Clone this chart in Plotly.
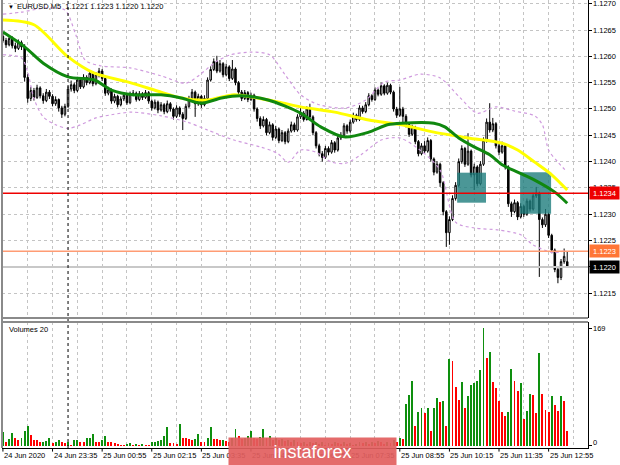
import plotly.graph_objects as go

# ---------------- data ----------------
OPEN = [
    1.12638, 1.12630, 1.12622, 1.12634, 1.12620, 1.12615, 1.12626, 1.12618, 1.12560, 1.12520,
    1.12535, 1.12522, 1.12540, 1.12525, 1.12516, 1.12532, 1.12524, 1.12510, 1.12518, 1.12502,
    1.12490, 1.12505, 1.12538, 1.12546, 1.12535, 1.12555, 1.12542, 1.12560, 1.12550, 1.12568,
    1.12548, 1.12565, 1.12572, 1.12558, 1.12530, 1.12536, 1.12515, 1.12524, 1.12508, 1.12519,
    1.12526, 1.12512, 1.12528, 1.12530, 1.12518, 1.12529, 1.12522, 1.12531, 1.12515, 1.12502,
    1.12513, 1.12498, 1.12508, 1.12495, 1.12510, 1.12500, 1.12486, 1.12502, 1.12490, 1.12482,
    1.12505, 1.12520, 1.12532, 1.12510, 1.12524, 1.12508, 1.12520, 1.12555, 1.12575, 1.12590,
    1.12572, 1.12586, 1.12565, 1.12580, 1.12558, 1.12576, 1.12550, 1.12532, 1.12520, 1.12531,
    1.12518, 1.12526, 1.12500, 1.12482, 1.12468, 1.12480, 1.12455, 1.12470, 1.12446, 1.12462,
    1.12440, 1.12455, 1.12438, 1.12458, 1.12470, 1.12460, 1.12485, 1.12492, 1.12480, 1.12500,
    1.12485, 1.12455, 1.12430, 1.12415, 1.12408, 1.12425, 1.12418, 1.12436, 1.12422, 1.12445,
    1.12450, 1.12468, 1.12458, 1.12475, 1.12488, 1.12480, 1.12502, 1.12495, 1.12508, 1.12525,
    1.12518, 1.12536, 1.12528, 1.12544, 1.12530, 1.12545, 1.12532, 1.12500, 1.12488, 1.12500,
    1.12486, 1.12470, 1.12452, 1.12465, 1.12438, 1.12415, 1.12430, 1.12420, 1.12440, 1.12405,
    1.12380, 1.12395, 1.12360, 1.12305, 1.12265, 1.12290, 1.12330, 1.12355, 1.12400, 1.12425,
    1.12395, 1.12420, 1.12375, 1.12390, 1.12358, 1.12395, 1.12440, 1.12475, 1.12460, 1.12472,
    1.12430, 1.12418, 1.12430, 1.12390, 1.12320, 1.12305, 1.12322, 1.12295, 1.12315, 1.12300,
    1.12325, 1.12310, 1.12335, 1.12340, 1.12290, 1.12280, 1.12300, 1.12260, 1.12232, 1.12195,
    1.12180, 1.12210, 1.12210,
]
HIGH = [
    1.12644, 1.12635, 1.12640, 1.12638, 1.12626, 1.12632, 1.12630, 1.12623, 1.12566, 1.12542,
    1.12540, 1.12546, 1.12543, 1.12530, 1.12538, 1.12536, 1.12528, 1.12524, 1.12520, 1.12506,
    1.12510, 1.12543, 1.12554, 1.12550, 1.12561, 1.12559, 1.12566, 1.12564, 1.12574, 1.12571,
    1.12570, 1.12578, 1.12576, 1.12562, 1.12542, 1.12539, 1.12529, 1.12527, 1.12524, 1.12531,
    1.12529, 1.12533, 1.12536, 1.12533, 1.12534, 1.12532, 1.12536, 1.12534, 1.12518, 1.12518,
    1.12516, 1.12513, 1.12511, 1.12516, 1.12513, 1.12503, 1.12507, 1.12505, 1.12494, 1.12510,
    1.12525, 1.12538, 1.12535, 1.12529, 1.12527, 1.12526, 1.12560, 1.12581, 1.12596, 1.12601,
    1.12593, 1.12589, 1.12586, 1.12583, 1.12593, 1.12579, 1.12553, 1.12536, 1.12536, 1.12534,
    1.12531, 1.12529, 1.12503, 1.12486, 1.12486, 1.12483, 1.12476, 1.12473, 1.12468, 1.12465,
    1.12460, 1.12458, 1.12463, 1.12476, 1.12474, 1.12490, 1.12502, 1.12496, 1.12505, 1.12510,
    1.12488, 1.12458, 1.12434, 1.12420, 1.12430, 1.12429, 1.12441, 1.12439, 1.12450, 1.12456,
    1.12473, 1.12471, 1.12480, 1.12493, 1.12491, 1.12507, 1.12506, 1.12513, 1.12530, 1.12528,
    1.12541, 1.12539, 1.12550, 1.12547, 1.12550, 1.12548, 1.12535, 1.12504, 1.12542, 1.12504,
    1.12490, 1.12473, 1.12470, 1.12468, 1.12441, 1.12435, 1.12439, 1.12446, 1.12443, 1.12408,
    1.12401, 1.12398, 1.12363, 1.12308, 1.12296, 1.12336, 1.12361, 1.12406, 1.12431, 1.12428,
    1.12454, 1.12423, 1.12396, 1.12393, 1.12401, 1.12446, 1.12482, 1.12511, 1.12483, 1.12475,
    1.12434, 1.12438, 1.12433, 1.12393, 1.12324, 1.12328, 1.12325, 1.12321, 1.12318, 1.12330,
    1.12328, 1.12341, 1.12352, 1.12343, 1.12294, 1.12310, 1.12303, 1.12263, 1.12235, 1.12200,
    1.12215, 1.12235, 1.12230,
]
LOW = [
    1.12626, 1.12616, 1.12619, 1.12615, 1.12608, 1.12612, 1.12612, 1.12552, 1.12512, 1.12515,
    1.12516, 1.12519, 1.12520, 1.12510, 1.12513, 1.12519, 1.12505, 1.12506, 1.12495, 1.12483,
    1.12486, 1.12502, 1.12533, 1.12530, 1.12532, 1.12538, 1.12539, 1.12545, 1.12547, 1.12543,
    1.12545, 1.12560, 1.12553, 1.12525, 1.12526, 1.12510, 1.12511, 1.12503, 1.12505, 1.12515,
    1.12508, 1.12509, 1.12524, 1.12514, 1.12515, 1.12517, 1.12519, 1.12510, 1.12497, 1.12499,
    1.12492, 1.12495, 1.12490, 1.12492, 1.12495, 1.12480, 1.12483, 1.12485, 1.12460, 1.12479,
    1.12502, 1.12517, 1.12485, 1.12506, 1.12502, 1.12505, 1.12518, 1.12552, 1.12572, 1.12568,
    1.12569, 1.12560, 1.12562, 1.12553, 1.12555, 1.12545, 1.12527, 1.12515, 1.12517, 1.12513,
    1.12515, 1.12495, 1.12476, 1.12462, 1.12465, 1.12450, 1.12452, 1.12440, 1.12443, 1.12435,
    1.12437, 1.12433, 1.12435, 1.12455, 1.12456, 1.12457, 1.12481, 1.12476, 1.12478, 1.12480,
    1.12450, 1.12425, 1.12410, 1.12400, 1.12405, 1.12412, 1.12415, 1.12417, 1.12419, 1.12441,
    1.12447, 1.12453, 1.12455, 1.12472, 1.12476, 1.12477, 1.12491, 1.12492, 1.12505, 1.12514,
    1.12515, 1.12524, 1.12525, 1.12526, 1.12527, 1.12528, 1.12495, 1.12483, 1.12485, 1.12470,
    1.12465, 1.12447, 1.12449, 1.12433, 1.12410, 1.12412, 1.12415, 1.12417, 1.12400, 1.12374,
    1.12377, 1.12352, 1.12298, 1.12238, 1.12242, 1.12287, 1.12326, 1.12352, 1.12396, 1.12390,
    1.12392, 1.12370, 1.12346, 1.12353, 1.12355, 1.12392, 1.12436, 1.12455, 1.12456, 1.12425,
    1.12412, 1.12415, 1.12385, 1.12314, 1.12295, 1.12302, 1.12289, 1.12292, 1.12295, 1.12297,
    1.12305, 1.12307, 1.12331, 1.12181, 1.12274, 1.12276, 1.12255, 1.12226, 1.12190, 1.12169,
    1.12175, 1.12206, 1.12200,
]
CLOSE = [
    1.12630, 1.12622, 1.12634, 1.12620, 1.12615, 1.12626, 1.12618, 1.12560, 1.12520, 1.12535,
    1.12522, 1.12540, 1.12525, 1.12516, 1.12532, 1.12524, 1.12510, 1.12518, 1.12502, 1.12490,
    1.12505, 1.12538, 1.12546, 1.12535, 1.12555, 1.12542, 1.12560, 1.12550, 1.12568, 1.12548,
    1.12565, 1.12572, 1.12558, 1.12530, 1.12536, 1.12515, 1.12524, 1.12508, 1.12519, 1.12526,
    1.12512, 1.12528, 1.12530, 1.12518, 1.12529, 1.12522, 1.12531, 1.12515, 1.12502, 1.12513,
    1.12498, 1.12508, 1.12495, 1.12510, 1.12500, 1.12486, 1.12502, 1.12490, 1.12482, 1.12505,
    1.12520, 1.12532, 1.12510, 1.12524, 1.12508, 1.12520, 1.12555, 1.12575, 1.12590, 1.12572,
    1.12586, 1.12565, 1.12580, 1.12558, 1.12576, 1.12550, 1.12532, 1.12520, 1.12531, 1.12518,
    1.12526, 1.12500, 1.12482, 1.12468, 1.12480, 1.12455, 1.12470, 1.12446, 1.12462, 1.12440,
    1.12455, 1.12438, 1.12458, 1.12470, 1.12460, 1.12485, 1.12492, 1.12480, 1.12500, 1.12485,
    1.12455, 1.12430, 1.12415, 1.12408, 1.12425, 1.12418, 1.12436, 1.12422, 1.12445, 1.12450,
    1.12468, 1.12458, 1.12475, 1.12488, 1.12480, 1.12502, 1.12495, 1.12508, 1.12525, 1.12518,
    1.12536, 1.12528, 1.12544, 1.12530, 1.12545, 1.12532, 1.12500, 1.12488, 1.12500, 1.12486,
    1.12470, 1.12452, 1.12465, 1.12438, 1.12415, 1.12430, 1.12420, 1.12440, 1.12405, 1.12380,
    1.12395, 1.12360, 1.12305, 1.12265, 1.12290, 1.12330, 1.12355, 1.12400, 1.12425, 1.12395,
    1.12420, 1.12375, 1.12390, 1.12358, 1.12395, 1.12440, 1.12475, 1.12460, 1.12472, 1.12430,
    1.12418, 1.12430, 1.12390, 1.12320, 1.12305, 1.12322, 1.12295, 1.12315, 1.12300, 1.12325,
    1.12310, 1.12335, 1.12340, 1.12290, 1.12280, 1.12300, 1.12260, 1.12232, 1.12195, 1.12180,
    1.12210, 1.12220, 1.12200,
]
VOLUME = [
    20, 5, 10, 18, 12, 8, 12, 21, 29, 16,
    9, 8, 5, 6, 7, 12, 4, 6, 9, 5,
    4, 6, 2, 8, 9, 6, 5, 11, 12, 17,
    6, 5, 8, 15, 6, 5, 4, 3, 2, 1,
    3, 4, 2, 3, 2, 3, 1, 1, 5, 6,
    7, 8, 15, 27, 4, 4, 3, 31, 12, 11,
    10, 9, 10, 17, 5, 5, 11, 27, 10, 10,
    8, 9, 7, 5, 12, 24, 14, 10, 12, 15,
    21, 12, 10, 13, 24, 12, 14, 9, 11, 8,
    10, 7, 9, 6, 8, 5, 4, 6, 3, 5,
    4, 6, 3, 5, 2, 4, 3, 6, 4, 3,
    5, 3, 4, 2, 3, 5, 4, 6, 3, 5,
    4, 7, 5, 3, 6, 4, 8, 6, 12, 10,
    60, 73, 93, 28, 48, 54, 47, 55, 22, 55,
    69, 63, 64, 28, 125, 122, 84, 66, 91, 55,
    71, 87, 90, 93, 109, 169, 126, 134, 92, 83,
    64, 48, 43, 48, 110, 93, 79, 90, 39, 50,
    74, 73, 47, 133, 74, 52, 49, 71, 58, 50,
    71, 64, 21,
]

# indicator lines (bar index, price)
MA_YELLOW_X = [0, 10, 21, 29.5, 40.5, 51, 57.5, 66, 74.5, 80, 89, 96, 107, 118, 128.5, 139, 150, 161, 166, 171.5, 177, 182]
MA_YELLOW_Y = [1.12669, 1.12660, 1.12599, 1.12568, 1.12551, 1.12532, 1.12521, 1.12517, 1.12527, 1.12523, 1.12513,
               1.12504, 1.12494, 1.12479, 1.12470, 1.12456, 1.12445, 1.12435, 1.12422, 1.12399, 1.12375, 1.12346]
MA_GREEN_X = [0, 7, 13, 21, 29.5, 35, 42, 51, 57.5, 64, 70.5, 77, 85.5, 96, 102.5, 110, 118, 124, 128.5, 139,
              142.5, 147, 152, 157, 161, 166, 171.5, 178, 182]
MA_GREEN_Y = [1.12646, 1.12618, 1.12587, 1.12561, 1.12555, 1.12536, 1.12527, 1.12527, 1.12521, 1.12511, 1.12521,
              1.12525, 1.12517, 1.12492, 1.12466, 1.12447, 1.12456, 1.12470, 1.12473, 1.12473, 1.12466, 1.12445,
              1.12428, 1.12413, 1.12394, 1.12380, 1.12365, 1.12342, 1.12321]
BB_UPPER_X = [0, 6, 14, 20, 23.5, 26.5, 31.5, 41, 51, 59, 63.5, 68.5, 73.5, 80, 86, 91, 96, 102, 110.5, 117, 123,
              128, 134.5, 141, 147.5, 153, 159, 165, 171.5, 174, 176, 179, 182]
BB_UPPER_Y = [1.12680, 1.12684, 1.12692, 1.12688, 1.12641, 1.12593, 1.12582, 1.12578, 1.12563, 1.12549, 1.12565,
              1.12589, 1.12603, 1.12608, 1.12603, 1.12565, 1.12527, 1.12508, 1.12502, 1.12517, 1.12551, 1.12555,
              1.12566, 1.12559, 1.12521, 1.12492, 1.12504, 1.12496, 1.12487, 1.12470, 1.12422, 1.12399, 1.12380]
BB_LOWER_X = [0, 6, 8, 10, 13, 17, 21, 25, 30, 35, 41.5, 51, 59.5, 66, 74.5, 83, 88.5, 92, 96, 101, 106, 110.5,
              115.5, 122, 128, 134.5, 141, 146, 152, 160, 167, 171, 177.5, 182]
BB_LOWER_Y = [1.12603, 1.12597, 1.12570, 1.12520, 1.12485, 1.12470, 1.12463, 1.12470, 1.12483, 1.12489, 1.12494,
              1.12487, 1.12475, 1.12460, 1.12441, 1.12428, 1.12416, 1.12399, 1.12422, 1.12418, 1.12399, 1.12397,
              1.12413, 1.12441, 1.12445, 1.12422, 1.12384, 1.12285, 1.12274, 1.12270, 1.12261, 1.12242, 1.12227,
              1.12232]

PRICE_TICKS = [1.1215, 1.1220, 1.1225, 1.1230, 1.1235, 1.1240, 1.1245, 1.1250, 1.1255, 1.1260, 1.1265, 1.1270]
PRICE_TICK_TEXT = ["1.1215", "1.1220", "1.1225", "1.1230", "1.1235", "1.1240", "1.1245", "1.1250", "1.1255",
                   "1.1260", "1.1265", "1.1270"]
TIME_LABELS = ["24 Jun 2020", "24 Jun 23:35", "25 Jun 00:55", "25 Jun 02:15", "25 Jun 03:35", "25 Jun 04:55",
               "25 Jun 06:15", "25 Jun 07:35", "25 Jun 08:55", "25 Jun 10:15", "25 Jun 11:35", "25 Jun 12:55"]
VOLUME_TICKS = [0, 169]

LEVEL_RED = 1.1234
LEVEL_ORANGE = 1.1223
LEVEL_LAST = 1.1220
HEADER = "EURUSD,M5  1.1221 1.1223 1.1220 1.1220"
# signal zones: (first bar, last bar, low price, high price)
ZONES = [(146.5, 155.8, 1.12322, 1.12379), (166.8, 176.8, 1.12301, 1.12380)]
SEPARATOR_BAR = 21

# ---------------- figure ----------------
FONT = "Liberation Sans"
BARS = list(range(len(OPEN)))
LABEL_STEP = 16
GRID_STEP = 8
grid_vals = list(range(0, 190, GRID_STEP))
label_vals = [k * LABEL_STEP for k in range(len(TIME_LABELS))]

vol_colors = []
for i, v in enumerate(VOLUME):
    vol_colors.append("#0e8f0e" if i == 0 or v > VOLUME[i - 1] else "#ff0000")

fig = go.Figure()

fig.add_trace(go.Candlestick(
    x=BARS, open=OPEN, high=HIGH, low=LOW, close=CLOSE,
    increasing=dict(line=dict(color="black", width=1), fillcolor="white"),
    decreasing=dict(line=dict(color="black", width=1), fillcolor="black"),
    whiskerwidth=0, hoverinfo="skip", showlegend=False, xaxis="x", yaxis="y"))

for (b0, b1, p0, p1) in ZONES:
    fig.add_trace(go.Scatter(
        x=[b0, b1, b1, b0, b0], y=[p0, p0, p1, p1, p0], mode="lines", fill="toself",
        fillcolor="rgba(30,125,125,0.8)", line=dict(width=0), hoverinfo="skip", showlegend=False,
        xaxis="x", yaxis="y"))

for xs, ys in ((BB_UPPER_X, BB_UPPER_Y), (BB_LOWER_X, BB_LOWER_Y)):
    fig.add_trace(go.Scatter(x=xs, y=ys, mode="lines",
                             line=dict(color="#cf9ade", width=1.2, dash="dot", shape="spline", smoothing=0.8),
                             hoverinfo="skip", showlegend=False, xaxis="x", yaxis="y"))

fig.add_trace(go.Scatter(x=MA_YELLOW_X, y=MA_YELLOW_Y, mode="lines",
                         line=dict(color="#ffff00", width=3, shape="spline", smoothing=0.8),
                         hoverinfo="skip", showlegend=False, xaxis="x", yaxis="y"))
fig.add_trace(go.Scatter(x=MA_GREEN_X, y=MA_GREEN_Y, mode="lines",
                         line=dict(color="#10880f", width=3, shape="spline", smoothing=0.8),
                         hoverinfo="skip", showlegend=False, xaxis="x", yaxis="y"))

fig.add_trace(go.Bar(x=BARS, y=VOLUME, marker=dict(color=vol_colors, line=dict(width=0)), width=0.62,
                     hoverinfo="skip", showlegend=False, xaxis="x2", yaxis="y2"))

XR = [-0.3, 188.7]
MAIN_DOMAIN = [0.2902, 1]
VOL_DOMAIN = [0, 0.28125]
fig.update_layout(
    width=620, height=465,
    margin=dict(l=2, r=32, t=0, b=17, autoexpand=False),
    paper_bgcolor="white", plot_bgcolor="white",
    showlegend=False, bargap=0,
    xaxis=dict(domain=[0, 1], range=XR, anchor="y", tickmode="array", tickvals=grid_vals,
               showticklabels=False, ticks="", showgrid=True, gridcolor="#c4c4c4", griddash="dot",
               gridwidth=1, zeroline=False, showline=False, rangeslider=dict(visible=False),
               automargin=False),
    xaxis2=dict(domain=[0, 1], range=XR, anchor="y2", matches="x", tickmode="array", tickvals=grid_vals,
                showticklabels=False, ticks="", showgrid=True, gridcolor="#c4c4c4", griddash="dot",
                zeroline=False, showline=True, linecolor="black", linewidth=1, automargin=False),
    yaxis=dict(domain=MAIN_DOMAIN, range=[1.12103, 1.12707], anchor="x", side="right", tickmode="array",
               tickvals=PRICE_TICKS, showticklabels=False, ticks="outside", ticklen=3, tickcolor="black",
               showgrid=True, gridcolor="#c4c4c4", griddash="dot", zeroline=False,
               showline=True, linecolor="black", linewidth=1, automargin=False),
    yaxis2=dict(domain=VOL_DOMAIN, range=[-2.9, 177.6], anchor="x2", side="right", tickmode="array",
                tickvals=VOLUME_TICKS, showticklabels=False, ticks="outside", ticklen=3,
                tickcolor="black", showgrid=False, zeroline=False,
                showline=True, linecolor="black", linewidth=1, automargin=False),
)

shapes = []
shapes.append(dict(type="line", xref="paper", x0=0, x1=1, yref="y", y0=LEVEL_LAST, y1=LEVEL_LAST,
                   line=dict(color="#c8c8c8", width=2), layer="above"))
shapes.append(dict(type="line", xref="paper", x0=0, x1=1, yref="y", y0=LEVEL_ORANGE, y1=LEVEL_ORANGE,
                   line=dict(color="#ff9c74", width=1.5), layer="above"))
shapes.append(dict(type="line", xref="paper", x0=0, x1=1, yref="y", y0=LEVEL_RED, y1=LEVEL_RED,
                   line=dict(color="#ee0000", width=1.6), layer="above"))
shapes.append(dict(type="line", xref="x", x0=SEPARATOR_BAR, x1=SEPARATOR_BAR, yref="paper", y0=0, y1=1,
                   line=dict(color="black", width=1, dash="dot"), layer="above"))
shapes.append(dict(type="line", xref="paper", x0=0, x1=1, yref="paper", y0=MAIN_DOMAIN[0], y1=MAIN_DOMAIN[0],
                   line=dict(color="#8a8a8a", width=2), layer="above"))
shapes.append(dict(type="line", xref="paper", x0=0, x1=1, yref="paper", y0=VOL_DOMAIN[1], y1=VOL_DOMAIN[1],
                   line=dict(color="#8a8a8a", width=2), layer="above"))
shapes.append(dict(type="line", xref="paper", x0=0, x1=0, yref="paper", y0=0, y1=1,
                   line=dict(color="#8a8a8a", width=2), layer="above"))
for v in label_vals:
    shapes.append(dict(type="line", xref="x", x0=v, x1=v, yref="paper", y0=0, y1=-0.008,
                       line=dict(color="black", width=1), layer="above"))
fig.update_layout(shapes=shapes)

tfont = dict(family=FONT, size=7.5, color="black")
ann = []
for val, txt in zip(PRICE_TICKS, PRICE_TICK_TEXT):
    ann.append(dict(xref="paper", yref="y", x=1, y=val, xanchor="left", yanchor="middle", xshift=3,
                    text=txt, showarrow=False, font=tfont))
for val in VOLUME_TICKS:
    ann.append(dict(xref="paper", yref="y2", x=1, y=val, xanchor="left", yanchor="middle", xshift=3,
                    yshift=(3 if val == 0 else 0), text=str(val), showarrow=False, font=tfont))
for val, txt in zip(label_vals, TIME_LABELS):
    ann.append(dict(xref="x2", yref="paper", x=val, y=0, xanchor="left", yanchor="top", xshift=-1,
                    yshift=-1, text=txt, showarrow=False, font=tfont))
ann.append(dict(xref="paper", yref="paper", x=0.006, y=0.9845, xanchor="left", yanchor="middle",
                text="▼", showarrow=False, font=dict(family=FONT, size=6, color="black")))
ann.append(dict(xref="paper", yref="paper", x=0.0222, y=0.9845, xanchor="left", yanchor="middle",
                text=HEADER, showarrow=False, font=tfont))
ann.append(dict(xref="paper", yref="paper", x=0.0085, y=0.2656, xanchor="left", yanchor="middle",
                text="Volumes 20", showarrow=False, font=tfont))
for price, bg in ((LEVEL_RED, "#ee0000"), (LEVEL_ORANGE, "#ff7636"), (LEVEL_LAST, "#000000")):
    ann.append(dict(xref="paper", yref="y", x=1, y=price, xanchor="left", yanchor="middle", xshift=1,
                    text="%.4f" % price, showarrow=False, bgcolor=bg, borderpad=1, width=27, height=10,
                    font=dict(family=FONT, size=7.5, color="white")))
ann.append(dict(xref="paper", yref="paper", x=0.3857, y=0.0246, xanchor="left", yanchor="top",
                text="instaforex", showarrow=False, bgcolor="rgba(226,94,94,0.92)", borderpad=0,
                width=167, height=28, font=dict(family=FONT, size=18, color="white")))
fig.update_layout(annotations=ann)

fig.write_html("out.html", config={"displayModeBar": False, "staticPlot": True},
               post_script="document.body.style.margin='0';document.body.style.padding='0';")
